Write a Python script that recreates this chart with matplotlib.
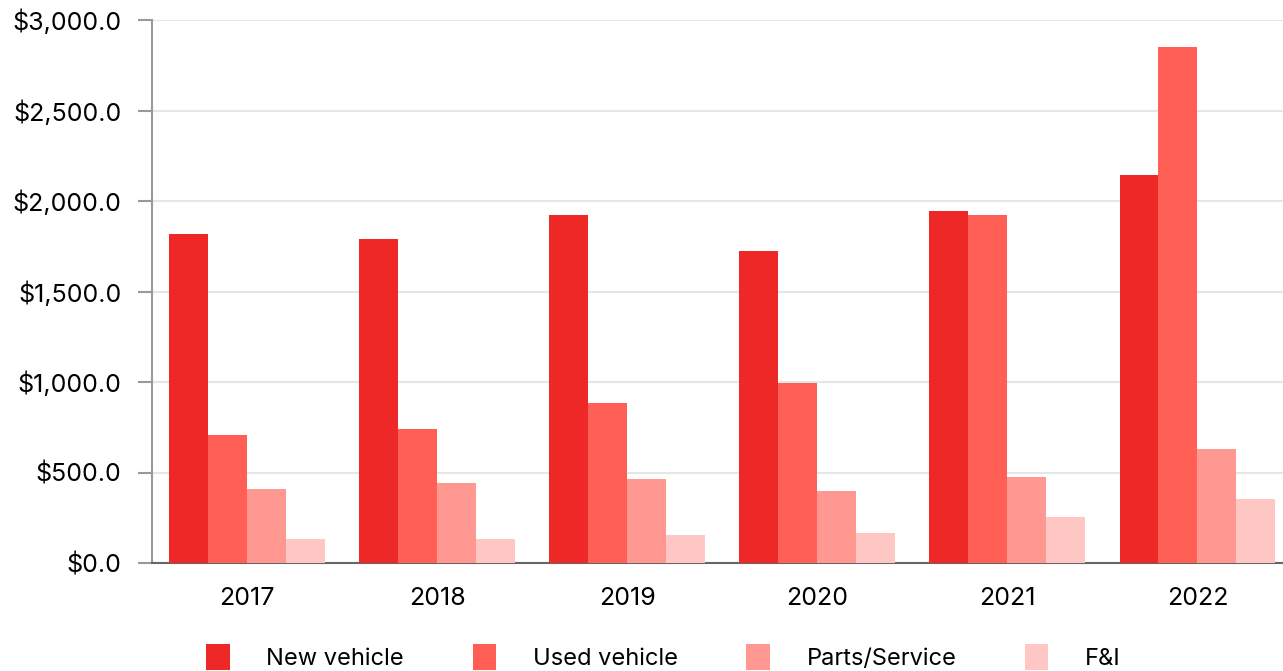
import numpy as np
import matplotlib
matplotlib.use("Agg")
import matplotlib.pyplot as plt
from matplotlib.ticker import FuncFormatter

plt.rcParams['font.family'] = ['Inter', 'DejaVu Sans']

years = ["2017", "2018", "2019", "2020", "2021", "2022"]
new_vehicle = [1815, 1790, 1923, 1724, 1945, 2144]
used_vehicle = [707, 740, 884, 994, 1923, 2851]
parts_service = [409, 442, 464, 398, 475, 630]
fni = [133, 133, 155, 166, 254, 354]

series = [
    ("New vehicle", new_vehicle, "#ee2826"),
    ("Used vehicle", used_vehicle, "#ff5f55"),
    ("Parts/Service", parts_service, "#ff9891"),
    ("F&I", fni, "#ffc7c4"),
]

fig = plt.figure(figsize=(12.83, 6.71), dpi=100)
ax = fig.add_axes([152 / 1283, 108 / 671, 1 - 152 / 1283, 543 / 671])

x = np.arange(len(years))
w = 0.205
for i, (name, vals, col) in enumerate(series):
    ax.bar(x + (i - 1.5) * w, vals, width=w, color=col, label=name, zorder=3)

ax.set_ylim(0, 3000)
ax.set_xlim(-0.5, 5.45)
ax.set_yticks(np.arange(0, 3001, 500))
ax.yaxis.set_major_formatter(FuncFormatter(lambda v, p: f"${v:,.1f}"))
ax.set_xticks(x)
ax.set_xticklabels(years)
ax.grid(axis="y", color="#e6e6e6", linewidth=1.5, zorder=0)
for s in ["top", "right"]:
    ax.spines[s].set_visible(False)
ax.spines["left"].set_color("#999999")
ax.spines["left"].set_linewidth(1.5)
ax.spines["bottom"].set_color("#666666")
ax.spines["bottom"].set_linewidth(1.5)
ax.tick_params(axis="y", length=10, color="#999999", width=1.5, labelsize=18, pad=12)
ax.tick_params(axis="x", length=0, labelsize=18, pad=17)

fig.legend(loc="lower left", bbox_to_anchor=(185 / 1283, -0.03), ncol=4, frameon=False,
           fontsize=17, handlelength=1.0, handleheight=1.3, handletextpad=1.55,
           columnspacing=2.9)

fig.savefig("out.png", dpi=100)
